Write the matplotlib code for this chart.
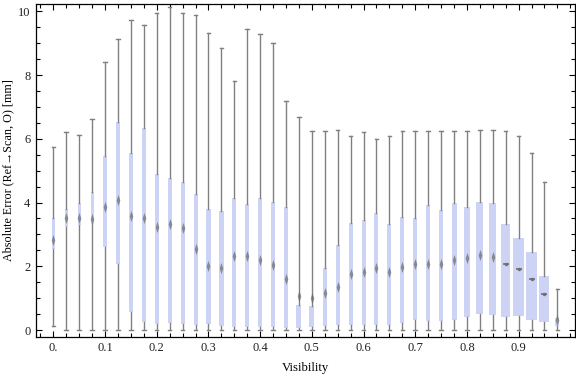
import matplotlib
matplotlib.use("Agg")
import matplotlib.pyplot as plt
from matplotlib.path import Path
from matplotlib.ticker import MultipleLocator, FixedLocator

visibility = [0.0, 0.025, 0.05, 0.075, 0.1, 0.125, 0.15, 0.175, 0.2, 0.225,
              0.25, 0.275, 0.3, 0.325, 0.35, 0.375, 0.4, 0.425, 0.45, 0.475,
              0.5, 0.525, 0.55, 0.575, 0.6, 0.625, 0.65, 0.675, 0.7, 0.725,
              0.75, 0.775, 0.8, 0.825, 0.85, 0.875, 0.9, 0.925, 0.95, 0.975]

whisker_high = [5.74, 6.20, 6.13, 6.61, 8.42, 9.13, 9.74, 9.58, 9.96, 10.13,
                9.96, 9.87, 9.33, 8.86, 7.80, 9.43, 9.30, 9.02, 7.20, 6.67,
                6.26, 6.23, 6.29, 6.10, 6.20, 5.98, 6.10, 6.23, 6.26, 6.26,
                6.23, 6.23, 6.26, 6.29, 6.29, 6.23, 6.10, 5.57, 4.66, 1.28]

upper_quartile = [3.52, 3.79, 3.97, 4.34, 5.46, 6.52, 5.56, 6.34, 4.89, 4.76,
                  4.65, 4.26, 3.79, 3.73, 4.14, 3.95, 4.14, 4.01, 3.86, 0.78,
                  0.75, 1.94, 2.66, 3.36, 3.45, 3.67, 3.32, 3.54, 3.51, 3.92,
                  3.76, 3.97, 3.86, 4.01, 3.97, 3.34, 2.88, 2.45, 1.70, 0.38]

median = [2.82, 3.50, 3.50, 3.48, 3.87, 4.08, 3.58, 3.52, 3.22, 3.33,
          3.21, 2.53, 2.02, 1.95, 2.31, 2.33, 2.20, 2.03, 1.60, 1.07,
          0.99, 1.17, 1.36, 1.77, 1.81, 1.94, 1.83, 1.97, 2.06, 2.08,
          2.07, 2.20, 2.25, 2.36, 2.30, 2.06, 1.91, 1.61, 1.13, 0.30]

lower_quartile = [2.55, 3.23, 3.28, 3.32, 2.61, 2.08, 0.55, 0.26, 0.20, 0.23,
                  0.20, 0.17, 0.20, 0.14, 0.10, 0.10, 0.10, 0.10, 0.07, 0.07,
                  0.10, 0.14, 0.16, 0.17, 0.17, 0.17, 0.17, 0.23, 0.31, 0.29,
                  0.29, 0.31, 0.42, 0.51, 0.48, 0.42, 0.45, 0.32, 0.26, 0.14]

whisker_low = [0.12] + [0.0] * 39

x_tick_values = [0.0, 0.1, 0.2, 0.3, 0.4, 0.5, 0.6, 0.7, 0.8, 0.9]
x_tick_labels = ["0.", "0.1", "0.2", "0.3", "0.4", "0.5", "0.6", "0.7", "0.8", "0.9"]
y_tick_values = [0, 2, 4, 6, 8, 10]
y_tick_labels = ["0", "2", "4", "6", "8", "10"]

# box widths in pixels (style)
box_px = [2.5, 3, 3, 3, 3.3, 3.7, 4.3, 4.3, 4, 4,
          4, 4, 4.3, 4.3, 4.3, 4.3, 4.5, 4.5, 4.5, 5,
          5, 4.3, 4, 4, 4, 4, 4, 4.3, 4, 4.3,
          4.7, 5, 6, 7, 7, 9, 11, 11, 10, 4]
px = 0.1 / 51.7
widths = [w * px for w in box_px]

serif = ["Liberation Serif", "DejaVu Serif"]
plt.rcParams["font.family"] = serif

fig = plt.figure(figsize=(5.76, 3.77), dpi=100)
ax = fig.add_axes([36 / 576, 1 - 336.7 / 377, 539 / 576, 332.7 / 377])

stats = []
for i in range(len(visibility)):
    stats.append(dict(med=median[i], q1=lower_quartile[i], q3=upper_quartile[i],
                      whislo=whisker_low[i], whishi=whisker_high[i], fliers=[]))

ax.bxp(stats, positions=visibility, widths=widths, patch_artist=True,
       showfliers=False, capwidths=[3.5 * px] * len(visibility),
       boxprops=dict(facecolor="#CDD3F5", edgecolor="none", linewidth=0),
       whiskerprops=dict(color="#808080", linewidth=1.0),
       capprops=dict(color="#808080", linewidth=1.0),
       medianprops=dict(linewidth=0, alpha=0), manage_ticks=False)

diamond = Path([(0, 1), (0.33, 0), (0, -1), (-0.33, 0), (0, 1)],
               [Path.MOVETO, Path.LINETO, Path.LINETO, Path.LINETO, Path.CLOSEPOLY])
for i, (x, m) in enumerate(zip(visibility, median)):
    if box_px[i] >= 8:
        ax.plot([x], [m], marker="_", markersize=5, color="#707070",
                markeredgewidth=1.2, zorder=4)
        ax.plot([x], [m], marker="o", markersize=2.5, color="#707070",
                markeredgewidth=0, zorder=4)
    else:
        ax.plot([x], [m], marker=diamond, markersize=8, color="#6a6a6a",
                markeredgewidth=0, alpha=0.7, zorder=4)

ax.set_xlim(-0.0335, 1.009)
ax.set_ylim(-0.21, 10.23)

ax.xaxis.set_major_locator(FixedLocator(x_tick_values))
ax.set_xticklabels(x_tick_labels)
ax.xaxis.set_minor_locator(MultipleLocator(0.025))
ax.yaxis.set_major_locator(FixedLocator(y_tick_values))
ax.set_yticklabels(y_tick_labels)
ax.yaxis.set_minor_locator(MultipleLocator(0.5))

ax.tick_params(which="both", direction="in", top=True, right=True,
               color="black", width=0.8, labelsize=9, labelcolor="#222222")
ax.tick_params(which="major", length=4.5, pad=4)
ax.tick_params(which="minor", length=3)
for s in ax.spines.values():
    s.set_linewidth(0.9)

ax.set_xlabel("Visibility", fontsize=9.2)
ax.xaxis.set_label_coords(0.5, -31.5 / 332.7, transform=ax.transAxes)
ax.xaxis.label.set_verticalalignment("center")
ax.set_ylabel("Absolute Error (Ref\u2192Scan, O) [mm]", fontsize=8.7)
ax.yaxis.set_label_coords(-28 / 539, 0.5, transform=ax.transAxes)
ax.yaxis.label.set_verticalalignment("center")

fig.savefig("out.png", dpi=100)
